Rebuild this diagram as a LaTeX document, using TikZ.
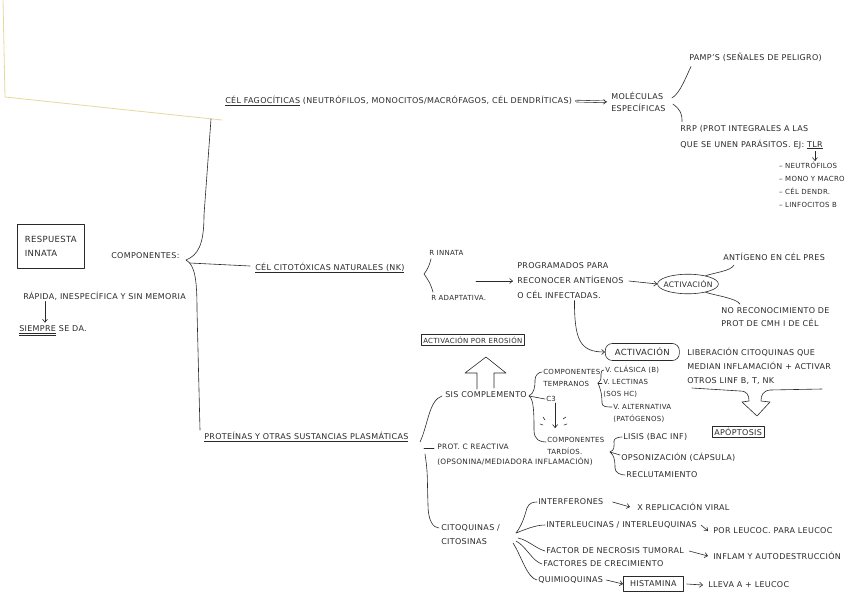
\documentclass[tikz,border=0pt]{standalone}
\usepackage{fontspec}
\setmainfont{DejaVu Sans}[LetterSpace=4]
\usepackage{xcolor}
\usetikzlibrary{arrows.meta, positioning, shapes.geometric}

\definecolor{ink}{HTML}{2A2A2A}
\definecolor{paperedge}{HTML}{E3DA9E}

\tikzset{
  txt/.style={anchor=west, inner sep=1pt, text=ink, align=left,
    font=\fontsize{8}{13}\selectfont},
  lsp/.style={font=\fontsize{8}{#1}\selectfont},
  small/.style={font=\fontsize{7}{#1}\selectfont},
  framed/.style={txt, draw=ink, inner sep=2pt},
  arr/.style={-{Straight Barb[length=3pt,width=5pt]}},
}

\begin{document}
\begin{tikzpicture}[x=1pt, y=-1pt, line width=0.6pt, color=ink, line cap=round, line join=round]
  \useasboundingbox (0,0) rectangle (848,594);
  \fill[white] (0,0) rectangle (848,594);

  % Paper edge
  \draw[paperedge, line width=0.8pt] (3,0) -- (5,97) -- (222,120);

  % Root
  \node[framed, anchor=north west, minimum width=67pt, minimum height=44pt,
    font=\fontsize{8.5}{14}\selectfont] (resp) at (17,224) {RESPUESTA\\INNATA};
  \node[txt] (comp) at (110,256) {COMPONENTES:};
  \node[txt] (rapida) at (22,296) {RÁPIDA, INESPECÍFICA Y SIN MEMORIA};
  \node[txt] (siempre) at (18,331) {\underline{\underline{SIEMPRE}} SE DA.};
  \draw[arr] ([xshift=23pt]rapida.south west) -- ([xshift=27pt,yshift=2pt]siempre.north west);

  % Main brace
  \coordinate (bc) at (186,260);
  \coordinate (btop) at (211,119);
  \draw (bc) .. controls +(12,-5) and +(0,30) .. (204,215) -- (btop);
  \draw (bc) .. controls +(9,5) and +(0,-30) .. (197,310) -- (200,430);

  % Phagocytes
  \node[txt] (fago) at (224,101) {\underline{CÉL FAGOCÍTICAS} (NEUTRÓFILOS, MONOCITOS/MACRÓFAGOS, CÉL DENDRÍTICAS)};
  \node[txt, lsp=12] (molec) at (610,102) {MOLÉCULAS\\ESPECÍFICAS};
  \draw[double, double distance=1.2pt, -{Implies}, shorten <=3pt, shorten >=3pt] (fago.east) -- (molec.west);
  \node[txt] (pamp) at (688,57) {PAMP'S (SEÑALES DE PELIGRO)};
  \node[txt, lsp=16] (rrp) at (679,137) {RRP (PROT INTEGRALES A LAS\\QUE SE UNEN PARÁSITOS. EJ: \underline{TLR}};
  \node[txt, small=13, anchor=north east] (cells) at (846,161) {-- NEUTRÓFILOS\\-- MONO Y MACRO\\-- CÉL DENDR.\\-- LINFOCITOS B};
  \draw ([xshift=5pt,yshift=4pt]molec.east) .. controls +(8,-4) and +(-4,8) .. ([xshift=3pt,yshift=-4pt]pamp.south west);
  \draw ([xshift=6pt,yshift=-2pt]molec.east) .. controls +(8,6) and +(0,-8) .. ([xshift=3pt,yshift=2pt]rrp.north west);
  \draw[arr] ([xshift=-9pt,yshift=-1pt]rrp.south east) -- ([xshift=-9pt]rrp.south east |- cells.north);

  % NK cells
  \node[txt] (nk) at (254,268) {\underline{CÉL CITOTÓXICAS NATURALES (NK)}};
  \draw ([xshift=4pt,yshift=-3pt]bc) -- ([xshift=-4pt,yshift=2pt]nk.west);
  \node[txt, small=13] (rinn) at (428,253) {R INNATA};
  \node[txt, small=13] (radap) at (430,298) {R ADAPTATIVA.};
  \coordinate (nkb) at (424,274);
  \draw ([xshift=3pt,yshift=-2pt]rinn.south west) .. controls +(-2,8) and +(3,-4) .. (nkb)
    .. controls +(3,4) and +(-2,-8) .. ([xshift=3pt,yshift=2pt]radap.north west);
  \coordinate (nkarr) at (476,281);
  \node[txt, lsp=15] (prog) at (516,281) {PROGRAMADOS PARA\\RECONOCER ANTÍGENOS\\O CÉL INFECTADAS.};
  \draw[arr] (nkarr) -- ([xshift=-3pt]prog.west);
  \node[draw, ellipse, inner xsep=-3pt, minimum height=18pt, text=ink,
    font=\fontsize{7.6}{8}\selectfont] (act1) at (688,284) {ACTIVACIÓN};
  \draw[arr] ([xshift=4pt]prog.east) -- (act1.west);
  \node[txt] (antig) at (722,257) {ANTÍGENO EN CÉL PRES};
  \node[txt, lsp=13] (norec) at (720,317) {NO RECONOCIMIENTO DE\\PROT DE CMH I DE CÉL};
  \draw (act1.25) .. controls +(8,-3) and +(-3,6) .. ([xshift=12pt,yshift=-3pt]antig.south west);
  \draw (act1.-25) .. controls +(8,3) and +(-3,-6) .. ([xshift=20pt,yshift=2pt]norec.north west);

  \node[framed, rounded corners=7pt, minimum width=74pt, minimum height=17pt,
    font=\fontsize{8.5}{9}\selectfont] (act2) at (605,352) {ACTIVACIÓN};
  \draw[arr] ([xshift=4pt]prog.south) .. controls +(0,40) and +(-25,0) .. (act2.west);
  \node[txt, lsp=14] (liber) at (686,366) {LIBERACIÓN CITOQUINAS QUE\\MEDIAN INFLAMACIÓN + ACTIVAR\\OTROS LINF B, T, NK};

  % Hollow arrow to apoptosis
  \node[framed] (apop) at (712,432) {APÓPTOSIS};
  \draw (692,388) -- (740,391) .. controls (747,391) and (749,395) .. (749,401) -- (742,402)
    -- (757,416) -- (770,402) -- (761,401) .. controls (761,395) and (763,391) .. (770,390) -- (822,389);

  % Plasma proteins
  \node[txt] (prot) at (203,437) {\underline{PROTEÍNAS Y OTRAS SUSTANCIAS PLASMÁTICAS}};
  \coordinate (pb) at (420,442);
  \node[txt] (sis) at (444,395) {SIS COMPLEMENTO};
  \node[txt, font=\fontsize{7.4}{15}\selectfont] (protc) at (436,455) {PROT. C REACTIVA\\(OPSONINA/MEDIADORA INFLAMACIÓN)};
  \node[txt, lsp=14] (cito) at (440,535) {CITOQUINAS /\\CITOSINAS};
  \draw (pb) .. controls (428,425) and (429,400) .. ([xshift=-2pt,yshift=-1pt]sis.west);
  \draw ([xshift=4pt,yshift=-6pt]pb) -- ([xshift=-2pt,yshift=7pt]protc.west);
  \draw ([xshift=5pt,yshift=-12pt]pb) .. controls +(3,20) and +(-1,-30) .. (428,505)
    .. controls +(0,15) and +(-6,0) .. ([xshift=-1pt,yshift=7pt]cito.west);

  % Complement
  \node[framed, small=9] (eros) at (421,340) {ACTIVACIÓN POR EROSIÓN};
  \draw (477,389) -- (477,373) -- (465,373) -- (486,357) -- (506,373) -- (494,373) -- (494,388);
  \coordinate (sb) at (529,396);
  \node[txt, small=12] (temp) at (542,378) {COMPONENTES\\TEMPRANOS};
  \node[txt, small=12] (c3) at (545,399) {C3};
  \node[txt, small=12] (tard) at (546,446) {COMPONENTES\\TARDÍOS.};
  \draw (sb) .. controls +(5,-3) and +(0,8) .. (535,380) .. controls +(0,-5) and +(-3,0) .. ([yshift=6pt]temp.west);
  \draw (sb) -- (c3.west);
  \draw (sb) .. controls +(5,3) and +(0,-15) .. (534,430) .. controls +(0,10) and +(-6,0) .. ([yshift=4pt]tard.west);
  \draw[arr, shorten >=8pt] ([xshift=4pt]c3.south) -- ([xshift=4pt]c3.south |- tard.north);
  \draw (543,417) -- (545,420) (540,424) -- (543,425) (563,419) -- (566,417) (564,425) -- (567,424);

  \node[txt, small=12] (vclas) at (604,370) {V. CLÁSICA (B)};
  \node[txt, small=12] (vlect) at (602,388) {V. LECTINAS\\(SOS HC)};
  \node[txt, small=12] (valt) at (612,413) {V. ALTERNATIVA\\(PATÓGENOS)};
  \coordinate (tb) at (598,383);
  \draw (tb) .. controls +(3,-3) and +(0,6) .. (601,374) .. controls +(0,-3) and +(-2,0) .. (vclas.west);
  \draw (tb) -- ([yshift=5pt]vlect.west);
  \draw (tb) .. controls +(2,5) and +(0,-10) .. (602,403) .. controls +(0,4) and +(-5,0) .. ([yshift=6pt]valt.west);

  \node[txt] (lisis) at (622,437) {LISIS (BAC INF)};
  \node[txt] (opson) at (620,457) {OPSONIZACIÓN (CÁPSULA)};
  \node[txt] (reclu) at (625,475) {RECLUTAMIENTO};
  \coordinate (db) at (610,452);
  \draw (db) .. controls +(5,-2) and +(0,5) .. (614,441) .. controls +(0,-3) and +(-3,0) .. (lisis.west);
  \draw (db) -- ([yshift=2pt]opson.west);
  \draw (db) .. controls +(4,3) and +(0,-8) .. (615,468) .. controls +(0,5) and +(-4,0) .. (reclu.west);

  % Cytokines
  \node[txt] (interf) at (537,502) {INTERFERONES};
  \node[txt] (repl) at (636,507) {X REPLICACIÓN VIRAL};
  \node[txt] (interl) at (545,525) {INTERLEUCINAS / INTERLEUQUINAS};
  \node[txt] (leuc) at (712,531) {POR LEUCOC. PARA LEUCOC};
  \node[txt] (tnf) at (545,551) {FACTOR DE NECROSIS TUMORAL};
  \node[txt] (infl) at (712,556) {INFLAM Y AUTODESTRUCCIÓN};
  \node[txt] (crec) at (542,564) {FACTORES DE CRECIMIENTO};
  \node[txt] (quim) at (537,580) {QUIMIOQUINAS};
  \node[framed, minimum width=60pt, minimum height=15pt, inner sep=1pt] (hist) at (623,584) {HISTAMINA};
  \node[txt] (lleva) at (707,585) {LLEVA A + LEUCOC};
  \coordinate (cb) at (516,533);
  \draw (cb) .. controls +(6,-8) and +(-3,10) .. (527,508) .. controls +(2,-5) and +(-4,0) .. (interf.west);
  \draw (cb) .. controls +(8,-3) and +(-10,0) .. (interl.west);
  \draw ([xshift=2pt,yshift=-5pt]cb) .. controls +(10,2) and +(-10,-3) .. (tnf.west);
  \draw ([yshift=-8pt]cb) .. controls +(10,5) and +(-10,-3) .. (crec.west);
  \draw ([xshift=-3pt,yshift=-10pt]cb) .. controls +(8,12) and +(-10,-2) .. (quim.west);
  \draw[arr] (interf.east) ++(8pt,0) -- ([xshift=-6pt]repl.west);
  \draw[arr] ([xshift=3pt]interl.east) -- ([xshift=-4pt]leuc.west);
  \draw[arr] ([xshift=4pt]tnf.east) -- ([xshift=-4pt]infl.west);
  \draw[arr] ([xshift=2pt]quim.east) -- (hist.west);
  \draw[arr] ([xshift=3pt]hist.east) -- ([xshift=-4pt]lleva.west);
\end{tikzpicture}
\end{document}
